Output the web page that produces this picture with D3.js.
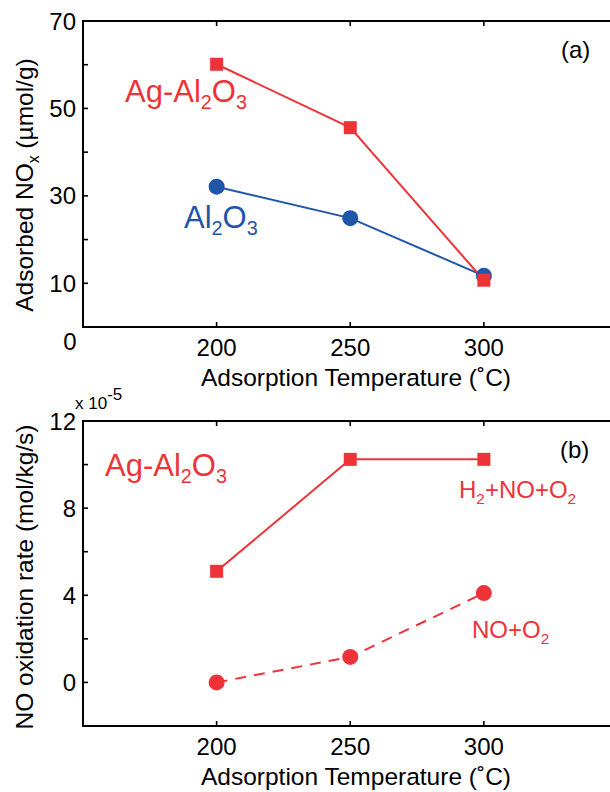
<!DOCTYPE html>
<html><head><meta charset="utf-8">
<script src="https://cdn.jsdelivr.net/npm/d3@7"></script>
<style>
html,body{margin:0;padding:0;background:#fff;}
svg{display:block;font-family:"Liberation Sans",Arial,Helvetica,sans-serif;}
</style></head>
<body>
<svg id="chart" width="610" height="792"></svg>
<script>
// ---- data ----
const temps = [200, 250, 300];
const agAl2o3Adsorbed = [60.1, 45.6, 10.7];
const al2o3Adsorbed = [32.1, 24.9, 11.7];
const h2NoO2Rate = [5.1, 10.24, 10.24];
const noO2Rate = [0.0, 1.17, 4.1];
const xTicks = [200, 250, 300];
const topYTicks = [0, 10, 20, 30, 40, 50, 60, 70];
const topYLabels = [10, 30, 50, 70];
const botYTicks = [-2, 0, 2, 4, 6, 8, 10, 12];
const botYLabels = [0, 4, 8, 12];

const RED = "#ee3338", BLUE = "#1f56aa";
const svg = d3.select("#chart");

function sub(t, parts, size){
  let last = false;
  parts.forEach(([s, isSub]) => {
    const ts = t.append("tspan").text(s);
    if (isSub) ts.attr("font-size", size*0.64).attr("dy", size*0.24);
    else if (last) ts.attr("dy", -size*0.24);
    last = isSub;
  });
}

function panel(o){
  const g = svg.append("g");
  const x = d3.scaleLinear().domain([150, 350]).range([83, 617.5]);
  const y = d3.scaleLinear().domain(o.yDomain).range([o.bottom, o.top]);
  g.append("rect").attr("x", 83).attr("y", o.top).attr("width", 617.5-83).attr("height", o.bottom-o.top)
    .attr("fill","none").attr("stroke","#000").attr("stroke-width",2);
  const tl = 5;
  xTicks.forEach(v => {
    g.append("line").attr("x1",x(v)).attr("x2",x(v)).attr("y1",o.bottom).attr("y2",o.bottom-tl).attr("stroke","#000").attr("stroke-width",1.6);
    g.append("line").attr("x1",x(v)).attr("x2",x(v)).attr("y1",o.top).attr("y2",o.top+tl).attr("stroke","#000").attr("stroke-width",1.6);
    g.append("text").attr("x",x(v)).attr("y",o.bottom+29).attr("text-anchor","middle").attr("font-size",24).text(v);
  });
  o.yTicks.forEach(v => {
    g.append("line").attr("x1",83).attr("x2",83+tl).attr("y1",y(v)).attr("y2",y(v)).attr("stroke","#000").attr("stroke-width",1.6);
  });
  o.yLabels.forEach(v => {
    g.append("text").attr("x",76).attr("y",y(v)).attr("dy","0.36em").attr("text-anchor","end").attr("font-size",24).text(v);
  });
  g.append("text").attr("x",356).attr("y",o.bottom+59).attr("text-anchor","middle").attr("font-size",24.5)
    .text("Adsorption Temperature (\u02DAC)");
  return {g, x, y};
}

const lineGen = (p) => d3.line().x((d,i)=>p.x(temps[i])).y(d=>p.y(d));

// ---- panel (a) ----
const a = panel({top:21, bottom:327, yDomain:[0,70], yTicks: topYTicks, yLabels: topYLabels});
a.g.append("text").attr("x",70).attr("y",350).attr("text-anchor","middle").attr("font-size",24).text("0");
a.g.append("path").datum(al2o3Adsorbed).attr("d", lineGen(a)).attr("fill","none").attr("stroke",BLUE).attr("stroke-width",2);
a.g.append("path").datum(agAl2o3Adsorbed).attr("d", lineGen(a)).attr("fill","none").attr("stroke",RED).attr("stroke-width",2);
a.g.selectAll(".c").data(al2o3Adsorbed).enter().append("circle")
  .attr("cx",(d,i)=>a.x(temps[i])).attr("cy",d=>a.y(d)).attr("r",8).attr("fill",BLUE);
a.g.selectAll(".s").data(agAl2o3Adsorbed).enter().append("rect")
  .attr("x",(d,i)=>a.x(temps[i])-6.5).attr("y",d=>a.y(d)-6.5).attr("width",13).attr("height",13).attr("fill",RED);
sub(a.g.append("text").attr("x",125).attr("y",102).attr("font-size",31).attr("fill",RED), [["Ag-Al",0],["2",1],["O",0],["3",1]], 31);
sub(a.g.append("text").attr("x",184).attr("y",228).attr("font-size",31).attr("fill",BLUE), [["Al",0],["2",1],["O",0],["3",1]], 31);
a.g.append("text").attr("x",561).attr("y",58).attr("font-size",24).text("(a)");
const ya = a.g.append("text").attr("transform","translate(33,185) rotate(-90)").attr("text-anchor","middle").attr("font-size",24.5);
sub(ya, [["Adsorbed NO",0],["x",1],[" (\u00B5mol/g)",0]], 24.5);

// ---- panel (b) ----
const b = panel({top:421, bottom:726, yDomain:[-2,12], yTicks: botYTicks, yLabels: botYLabels});
const xe = b.g.append("text").attr("x",75).attr("y",409).attr("font-size",17);
xe.append("tspan").text("x 10");
xe.append("tspan").attr("dy",-9).attr("font-size",17).text("-5");
b.g.append("path").datum(noO2Rate).attr("d", lineGen(b)).attr("fill","none").attr("stroke",RED).attr("stroke-width",2).attr("stroke-dasharray","11,8");
b.g.append("path").datum(h2NoO2Rate).attr("d", lineGen(b)).attr("fill","none").attr("stroke",RED).attr("stroke-width",2);
b.g.selectAll(".c").data(noO2Rate).enter().append("circle")
  .attr("cx",(d,i)=>b.x(temps[i])).attr("cy",d=>b.y(d)).attr("r",8).attr("fill",RED);
b.g.selectAll(".s").data(h2NoO2Rate).enter().append("rect")
  .attr("x",(d,i)=>b.x(temps[i])-6.5).attr("y",d=>b.y(d)-6.5).attr("width",13).attr("height",13).attr("fill",RED);
sub(b.g.append("text").attr("x",105).attr("y",476).attr("font-size",31).attr("fill",RED), [["Ag-Al",0],["2",1],["O",0],["3",1]], 31);
sub(b.g.append("text").attr("x",459).attr("y",498).attr("font-size",24).attr("fill",RED), [["H",0],["2",1],["+NO+O",0],["2",1]], 24);
sub(b.g.append("text").attr("x",472).attr("y",638).attr("font-size",24).attr("fill",RED), [["NO+O",0],["2",1]], 24);
b.g.append("text").attr("x",560).attr("y",458).attr("font-size",24).text("(b)");
b.g.append("text").attr("transform","translate(33,577) rotate(-90)").attr("text-anchor","middle").attr("font-size",24.5)
  .text("NO oxidation rate (mol/kg/s)");
</script>
</body></html>
